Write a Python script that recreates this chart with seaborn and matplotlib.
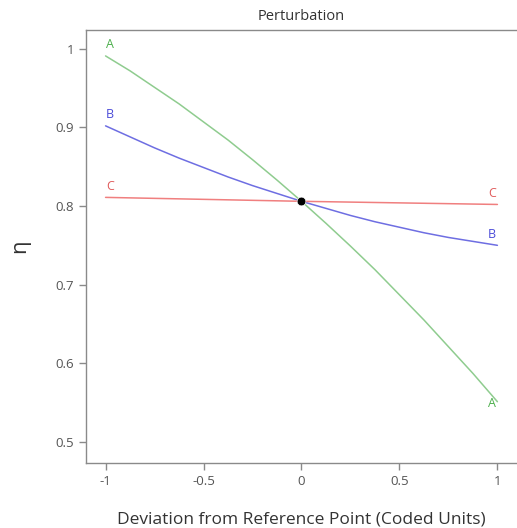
import pandas as pd
import seaborn as sns
import matplotlib.pyplot as plt

# Valores (desvio do ponto de referência, unidades codificadas)
dev_ab = [-1.0, -0.875, -0.75, -0.625, -0.5, -0.375, -0.25, -0.125, 0.0,
          0.125, 0.25, 0.375, 0.5, 0.625, 0.75, 0.875, 1.0]
eta_a = [0.991, 0.972, 0.951, 0.930, 0.907, 0.884, 0.859, 0.833, 0.806,
         0.778, 0.749, 0.719, 0.687, 0.655, 0.621, 0.587, 0.551]
eta_b = [0.902, 0.888, 0.874, 0.861, 0.849, 0.837, 0.826, 0.816, 0.806,
         0.797, 0.788, 0.780, 0.773, 0.766, 0.760, 0.755, 0.750]
dev_c = [-1.0, -0.5, 0.0, 0.5, 1.0]
eta_c = [0.811, 0.8085, 0.806, 0.804, 0.802]
factors = ["A", "B", "C"]

ref_x = [0.0]
ref_eta = [0.806]

colors = {"A": "#8fcc8f", "B": "#6e6ee2", "C": "#f07f7f"}
label_colors = {"A": "#4caf4c", "B": "#4a4ad8", "C": "#e05a5a"}

df = pd.DataFrame({
    "deviation": dev_ab + dev_ab + dev_c,
    "eta": eta_a + eta_b + eta_c,
    "factor": ["A"] * len(dev_ab) + ["B"] * len(dev_ab) + ["C"] * len(dev_c),
})

sns.set_style("white")
plt.rcParams["font.family"] = ["Open Sans", "DejaVu Sans"]

fig = plt.figure(figsize=(5.17, 5.28), dpi=100)
ax = fig.add_axes([0.1663, 0.1231, 0.8337, 0.8201])

sns.lineplot(data=df, x="deviation", y="eta", hue="factor", palette=colors,
             linewidth=1.1, legend=False, ax=ax)
sns.scatterplot(x=ref_x, y=ref_eta, color="black", s=40, zorder=5, ax=ax)

# Rótulos nas pontas das curvas
for f in factors:
    sub = df[df["factor"] == f]
    y_start = sub["eta"].iloc[0]
    y_end = sub["eta"].iloc[-1]
    ax.annotate(f, (sub["deviation"].iloc[0], y_start), xytext=(3, 8),
                textcoords="offset points", ha="center", va="center",
                color=label_colors[f], fontsize=9)
    off_end = -1 if f == "A" else 8
    ax.annotate(f, (sub["deviation"].iloc[-1], y_end), xytext=(-4, off_end),
                textcoords="offset points", ha="center", va="center",
                color=label_colors[f], fontsize=9)

ax.set_xlim(-1.1, 1.1)
ax.set_ylim(0.473, 1.024)
ax.set_xticks([-1, -0.5, 0, 0.5, 1])
ax.set_xticklabels(["-1", "-0.5", "0", "0.5", "1"])
ax.set_yticks([0.5, 0.6, 0.7, 0.8, 0.9, 1.0])
ax.set_yticklabels(["0.5", "0.6", "0.7", "0.8", "0.9", "1"])

for side in ["left", "bottom", "top"]:
    ax.spines[side].set_color("#8a8a8a")
    ax.spines[side].set_linewidth(1.0)
ax.spines["right"].set_visible(False)
ax.tick_params(axis="both", direction="out", length=5, width=1, color="#8a8a8a",
               labelsize=9.5, labelcolor="#555555", bottom=True, left=True)

ax.set_xlabel("Deviation from Reference Point (Coded Units)", fontsize=12.5,
              color="#333333", labelpad=17)
ax.set_ylabel("η", fontsize=16, color="#333333", labelpad=18)
ax.set_title("Perturbation", fontsize=10.5, color="#333333", pad=7)

plt.savefig("out.png", dpi=100)
plt.close()
